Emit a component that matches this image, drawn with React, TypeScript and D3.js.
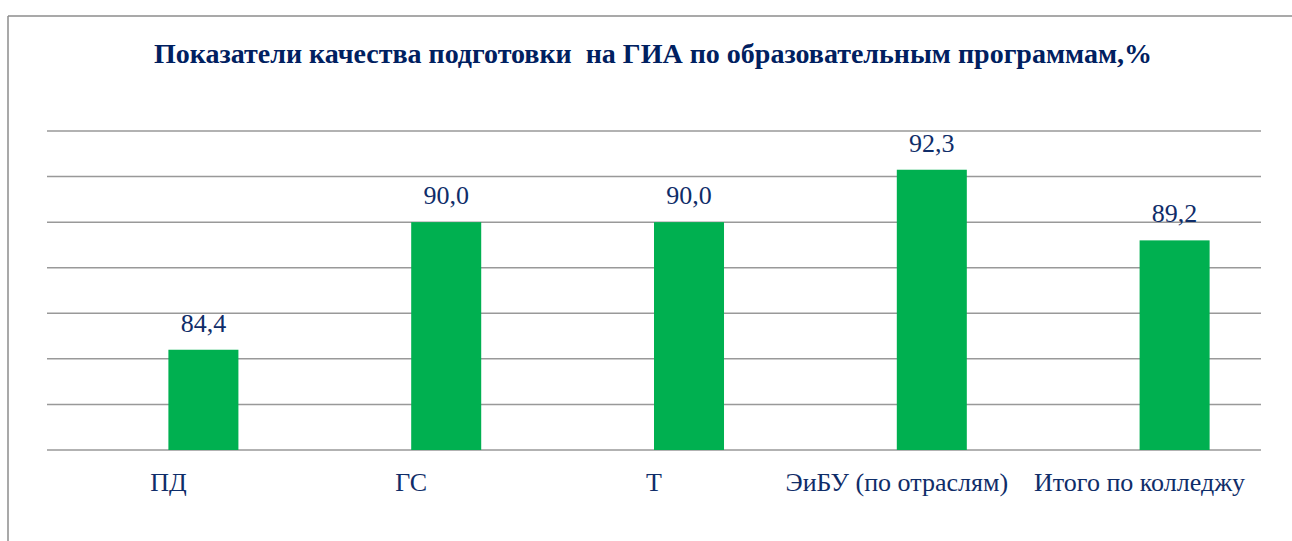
import React from 'react';
import * as d3 from 'd3';

// данные диаграммы
const categories = ['ПД', 'ГС', 'Т', 'ЭиБУ (по отраслям)', 'Итого по колледжу'];
const seriesNames = ['пусто', 'Качество'];
const qualityValues = [84.4, 90.0, 90.0, 92.3, 89.2];
const yDomain = [80, 94];
const yStep = 2;
const chartTitle = 'Показатели качества подготовки  на ГИА по образовательным программам,%';

const WIDTH = 1292;
const HEIGHT = 541;
const plot = { left: 47, right: 1261, top: 131, bottom: 450 };

const textColor = '#0F2D69';
const gridColor = '#999999';
const barColor = '#00B050';
const font = "'Liberation Serif'";

const ru = d3.formatLocale({
  decimal: ',',
  thousands: ' ',
  grouping: [3],
  currency: ['', ''],
});
const fmt = ru.format('.1f');

export default function App() {
  // шкала категорий
  const x0 = d3
    .scaleBand<string>()
    .domain(categories)
    .range([plot.left, plot.right])
    .padding(0);
  // две серии (первая пустая, как в исходной диаграмме)
  const x1 = d3
    .scaleBand<string>()
    .domain(seriesNames)
    .range([0, x0.bandwidth()])
    .paddingInner(0)
    .paddingOuter(0.734);

  const y = d3.scaleLinear().domain(yDomain).range([plot.bottom, plot.top]);
  const ticks = d3.range(yDomain[0], yDomain[1] + 0.001, yStep);

  return (
    <svg
      width={WIDTH}
      height={HEIGHT}
      style={{ position: 'absolute', left: 0, top: 0, background: '#fff', fontFamily: font }}
    >
      {/* рамка */}
      <line x1={8} y1={16} x2={WIDTH} y2={16} stroke="#8c8c8c" strokeWidth={1.5} />
      <line x1={8} y1={16} x2={8} y2={HEIGHT} stroke="#8c8c8c" strokeWidth={1.5} />

      {/* заголовок */}
      <text
        x={653}
        y={63}
        textAnchor="middle"
        fontSize={28}
        fontWeight="bold"
        fill="#002060"
        style={{ whiteSpace: 'pre', fontFamily: font }}
      >
        {chartTitle}
      </text>

      {/* сетка */}
      {ticks.map((t) => (
        <line
          key={t}
          x1={plot.left}
          x2={plot.right}
          y1={y(t)}
          y2={y(t)}
          stroke={gridColor}
          strokeWidth={1.5}
        />
      ))}

      {/* столбцы */}
      {categories.map((c, i) => {
        const bx = (x0(c) as number) + (x1('Качество') as number);
        const by = y(qualityValues[i]);
        return (
          <g key={c}>
            <rect
              x={bx}
              y={by}
              width={x1.bandwidth()}
              height={plot.bottom - by}
              fill={barColor}
            />
            <text
              x={bx + x1.bandwidth() / 2}
              y={by - 18}
              textAnchor="middle"
              fontSize={26}
              fill={textColor}
              style={{ fontFamily: font }}
            >
              {fmt(qualityValues[i])}
            </text>
          </g>
        );
      })}

      {/* подписи категорий */}
      {categories.map((c) => (
        <text
          key={c}
          x={(x0(c) as number) + x0.bandwidth() / 2}
          y={491}
          textAnchor="middle"
          fontSize={26}
          fill={textColor}
          style={{ fontFamily: font }}
        >
          {c}
        </text>
      ))}
    </svg>
  );
}
